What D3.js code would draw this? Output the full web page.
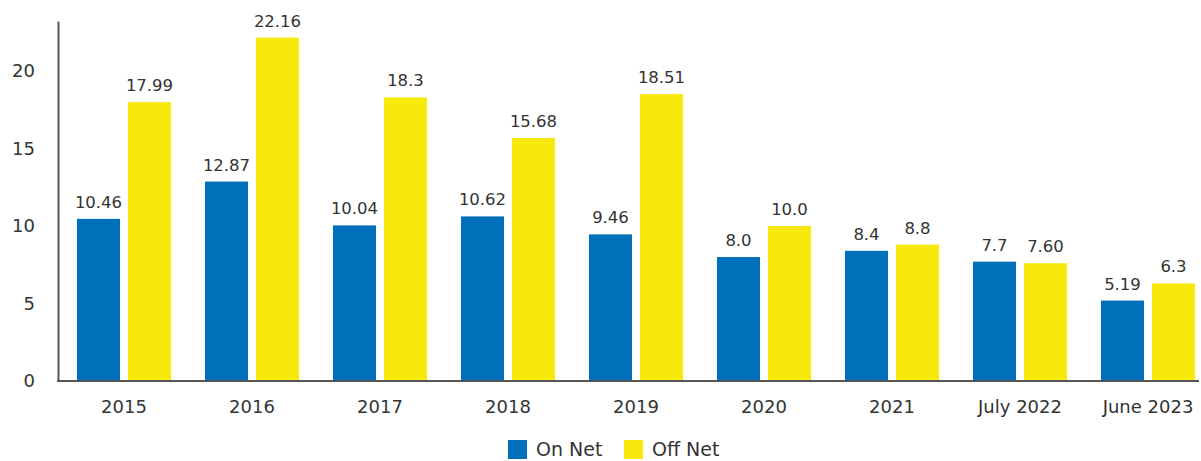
<!DOCTYPE html>
<html><head><meta charset="utf-8">
<script src="https://cdn.jsdelivr.net/npm/d3@7"></script>
<style>body{margin:0;background:#fff;} text{font-family:"DejaVu Sans",sans-serif;fill:#333;}</style>
</head><body>
<svg id="c" width="1201" height="461"></svg>
<script>
const categories = ["2015","2016","2017","2018","2019","2020","2021","July 2022","June 2023"];
const onNet = [10.46,12.87,10.04,10.62,9.46,8.0,8.4,7.7,5.19];
const offNet = [17.99,22.16,18.3,15.68,18.51,10.0,8.8,7.60,6.3];
const onNetLabels = ["10.46","12.87","10.04","10.62","9.46","8.0","8.4","7.7","5.19"];
const offNetLabels = ["17.99","22.16","18.3","15.68","18.51","10.0","8.8","7.60","6.3"];
const yTicks = [0,5,10,15,20];
const seriesNames = ["On Net","Off Net"];
const colors = ["#0070BA","#F7E90A"];

const svg = d3.select("#c");
const y = d3.scaleLinear().domain([0,23.23]).range([381,21]);
const x = d3.scaleBand().domain(categories).range([60,1212]).padding(0);
const xs = d3.scaleBand().domain(seriesNames).range([17,111]).paddingInner(8/51);

// axes
const yAxis = svg.append("g").attr("transform","translate(58,0)")
  .call(d3.axisLeft(y).tickValues(yTicks).tickSize(0).tickPadding(23));
yAxis.select(".domain").attr("stroke","#555").attr("stroke-width",2);
yAxis.selectAll("text").style("font-size","18px").attr("fill","#333");

const groups = svg.append("g").selectAll("g").data(categories).join("g")
  .attr("transform",d=>`translate(${x(d)},0)`);
const seriesData = [onNet, offNet];
const labelData = [onNetLabels, offNetLabels];
seriesNames.forEach((s,si)=>{
  groups.append("rect")
    .attr("x", xs(s)).attr("width", xs.bandwidth())
    .attr("y",(d,i)=>y(seriesData[si][i]))
    .attr("height",(d,i)=>y(0)-y(seriesData[si][i]))
    .attr("fill",colors[si]);
  groups.append("text")
    .attr("x", xs(s)+xs.bandwidth()/2)
    .attr("y",(d,i)=>y(seriesData[si][i])-11)
    .attr("text-anchor","middle").style("font-size","16.5px")
    .text((d,i)=>labelData[si][i]);
});

const xAxis = svg.append("g").attr("transform","translate(0,381)")
  .call(d3.axisBottom(x).tickSize(0).tickPadding(19));
xAxis.select(".domain").remove();
xAxis.selectAll("text").style("font-size","18px").attr("fill","#333");
svg.append("line").attr("x1",57).attr("x2",1199).attr("y1",381).attr("y2",381)
  .attr("stroke","#555").attr("stroke-width",2);

// legend
const legX = [508,624];
const leg = svg.append("g").selectAll("g").data(seriesNames).join("g")
  .attr("transform",(d,i)=>`translate(${legX[i]},440)`);
leg.append("rect").attr("width",19).attr("height",19).attr("fill",(d,i)=>colors[i]);
leg.append("text").attr("x",28).attr("y",16).style("font-size","19px").text(d=>d);
</script>
</body></html>
